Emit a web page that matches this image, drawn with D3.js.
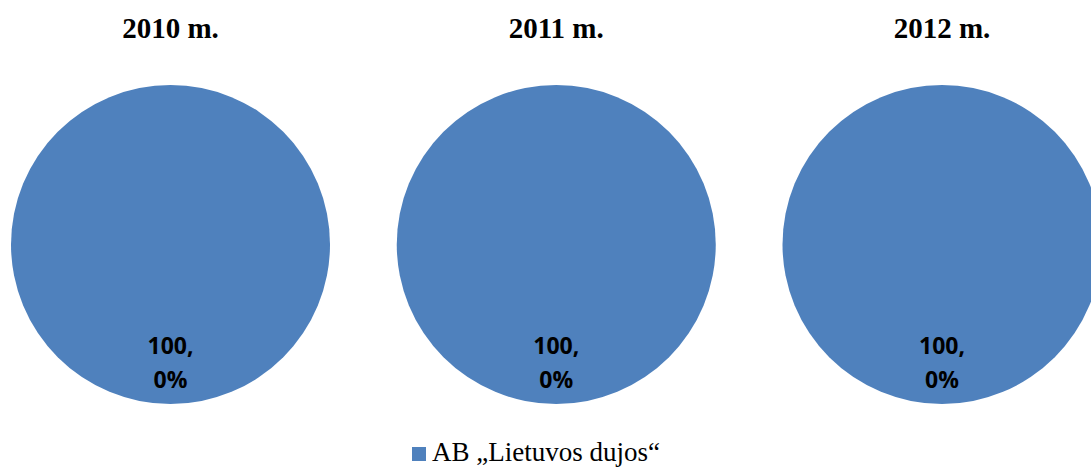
<!DOCTYPE html>
<html>
<head>
<meta charset="utf-8">
<script src="https://cdn.jsdelivr.net/npm/d3@7/dist/d3.min.js"></script>
<style>
  html, body { margin: 0; padding: 0; background: #fff; overflow: hidden; }
  svg { display: block; }
</style>
</head>
<body>
<svg id="chart" width="1091" height="468"></svg>
<script>
// Data
const years = ["2010 m.", "2011 m.", "2012 m."];
const companies = ["AB \u201ELietuvos dujos\u201C"];
const shares = [
  [100.0],
  [100.0],
  [100.0]
];
const labelLines = ["100,", "0%"];
const colors = ["#4F81BD"];

const svg = d3.select("#chart");

const xScale = d3.scalePoint().domain(years).range([170.5, 942]);
const cy = 244.5;
const r = 159.5;

const pie = d3.pie().sort(null).value(d => d);
const arc = d3.arc().innerRadius(0).outerRadius(r);
const labelArc = d3.arc().innerRadius(r * 0.745).outerRadius(r * 0.745);
const color = d3.scaleOrdinal().domain(companies).range(colors);

years.forEach((yr, i) => {
  const cx = xScale(yr);
  svg.append("text")
    .attr("x", cx).attr("y", 38)
    .attr("text-anchor", "middle")
    .style("font-family", "'Liberation Serif', 'Times New Roman', serif")
    .style("font-weight", "bold")
    .style("font-size", "29px")
    .attr("fill", "#000")
    .text(yr);

  const g = svg.append("g").attr("transform", `translate(${cx},${cy})`);
  const arcs = pie(shares[i]);
  g.selectAll("path").data(arcs).enter().append("path")
    .attr("d", arc)
    .attr("fill", (d, j) => color(companies[j]));

  arcs.forEach(a => {
    const [lx, ly] = labelArc.centroid(a);
    const t = g.append("text")
      .attr("text-anchor", "middle")
      .style("font-family", "'Open Sans', 'Liberation Sans', sans-serif")
      .style("font-weight", "bold")
      .style("font-size", "23px")
      .attr("fill", "#000");
    t.append("tspan").attr("x", lx).attr("y", ly - 17 + 8).text(labelLines[0]);
    t.append("tspan").attr("x", lx).attr("y", ly + 17 + 8).text(labelLines[1]);
  });
});

// Legend
const leg = svg.append("g");
companies.forEach((c, j) => {
  leg.append("rect")
    .attr("x", 412).attr("y", 447)
    .attr("width", 14).attr("height", 14)
    .attr("fill", color(c));
  leg.append("text")
    .attr("x", 432).attr("y", 461)
    .style("font-family", "'Liberation Serif', 'Times New Roman', serif")
    .style("font-size", "27px")
    .attr("fill", "#000")
    .text(c);
});
</script>
</body>
</html>
